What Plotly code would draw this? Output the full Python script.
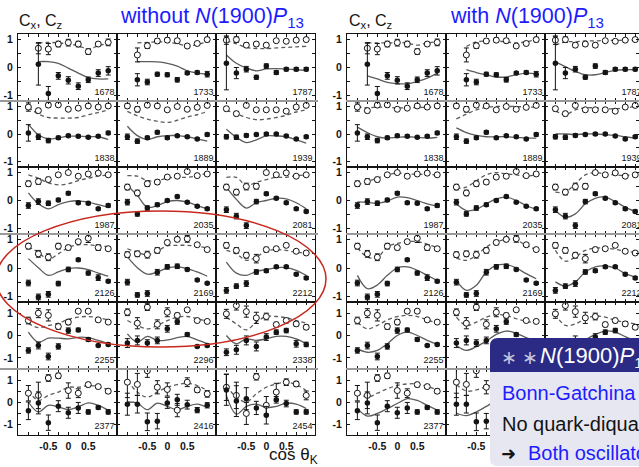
import plotly.graph_objects as go

W, H = 639, 467
N = None

# Photon energies (MeV) of the 18 angular distributions, in reading order
energies = [1678, 1733, 1787, 1838, 1889, 1939, 1987, 2035, 2081,
            2126, 2169, 2212, 2255, 2296, 2338, 2377, 2416, 2454]

# Kaon angle bins
cos_theta = [-1.0, -0.75, -0.5, -0.25, 0.0, 0.25, 0.5, 0.75, 1.0]

# C_x measurements (filled symbols)
cx_data = [
    [N, 0.12, -0.93, -0.30, -0.46, -0.67, -0.44, -0.20, -0.12],
    [N, -0.44, -0.52, -0.24, -0.26, -0.44, -0.20, -0.18, -0.24],
    [0.15, -0.20, -0.06, -0.35, 0.05, -0.18, -0.06, -0.06, -0.06],
    [0.04, -0.10, -0.24, -0.14, -0.06, -0.08, -0.12, -0.08, 0.04],
    [-0.10, -0.26, -0.14, 0.06, -0.14, -0.06, -0.10, -0.18, -0.02],
    [-0.10, -0.12, -0.05, -0.02, 0.00, 0.00, -0.07, -0.18, -0.10],
    [-0.18, -0.04, -0.10, 0.02, 0.26, -0.08, -0.10, -0.30, -0.18],
    [-0.06, -0.48, -0.27, -0.15, 0.00, 0.14, -0.06, -0.21, -0.30],
    [-0.33, -0.56, -0.90, -0.04, 0.24, 0.08, -0.08, -0.30, -0.39],
    [-0.53, -1.02, -0.93, -0.55, -0.05, 0.29, -0.18, -0.34, -0.47],
    [-0.50, -0.95, -0.90, -0.15, 0.04, 0.06, -0.05, -0.42, -0.54],
    [-0.79, -0.64, -0.55, -0.14, -0.10, 0.04, 0.04, -0.22, -0.35],
    [-0.67, -0.45, -0.94, -0.49, 0.22, 0.25, -0.18, -0.45, -0.40],
    [-0.34, -0.22, -0.34, -0.22, 0.30, 0.62, 0.04, -0.49, -0.45],
    [-0.75, -0.64, -0.22, -0.49, -0.07, 0.15, 0.22, -0.37, -0.40],
    [-0.40, -0.04, -0.94, -0.19, -0.49, -0.27, -0.45, -0.25, -0.45],
    [-0.10, -0.10, -0.90, -0.87, -0.04, 0.10, -0.12, -0.37, -0.15],
    [0.55, 0.04, 0.15, -0.27, -0.60, 0.10, -0.07, -0.45, -0.45],
]
cx_err = [
    [N, 0.75, 0.25, 0.12, 0.13, 0.12, 0.10, 0.12, 0.15],
    [N, 0.22, 0.10, 0.07, 0.07, 0.08, 0.05, 0.06, 0.10],
    [0.95, 0.20, 0.10, 0.07, 0.08, 0.07, 0.06, 0.06, 0.06],
    [0.30, 0.10, 0.08, 0.06, 0.05, 0.05, 0.04, 0.04, 0.06],
    [0.10, 0.08, 0.06, 0.06, 0.05, 0.04, 0.04, 0.04, 0.06],
    [0.08, 0.08, 0.06, 0.05, 0.05, 0.04, 0.04, 0.04, 0.05],
    [0.10, 0.10, 0.08, 0.06, 0.06, 0.05, 0.05, 0.05, 0.06],
    [0.10, 0.08, 0.08, 0.06, 0.05, 0.05, 0.04, 0.04, 0.05],
    [0.10, 0.10, 0.10, 0.08, 0.06, 0.05, 0.05, 0.05, 0.05],
    [0.10, 0.10, 0.10, 0.08, 0.08, 0.05, 0.07, 0.10, 0.05],
    [0.10, 0.08, 0.10, 0.10, 0.08, 0.08, 0.05, 0.04, 0.04],
    [0.10, 0.08, 0.10, 0.08, 0.06, 0.05, 0.05, 0.05, 0.05],
    [0.12, 0.15, 0.15, 0.12, 0.12, 0.08, 0.08, 0.05, 0.06],
    [0.20, 0.20, 0.15, 0.15, 0.15, 0.12, 0.08, 0.05, 0.06],
    [0.15, 0.20, 0.20, 0.20, 0.15, 0.10, 0.10, 0.15, 0.10],
    [0.40, 0.50, 0.35, 0.25, 0.25, 0.25, 0.10, 0.08, 0.10],
    [0.50, 0.40, 0.40, 0.35, 0.25, 0.25, 0.20, 0.12, 0.12],
    [0.70, 0.70, 0.50, 0.30, 0.40, 0.15, 0.15, 0.10, 0.10],
]

# C_z measurements (open symbols)
cz_data = [
    [N, 0.69, 0.66, 0.84, 0.89, 0.84, 0.57, 0.84, 0.90],
    [N, 0.45, 0.78, 0.95, 0.98, 0.96, 0.77, 0.86, 1.00],
    [0.98, 1.00, 0.80, 0.84, 0.80, 0.96, 0.94, 0.98, 1.00],
    [0.98, 0.85, 1.05, 1.06, 0.90, 0.94, 1.02, 0.98, 1.02],
    [1.02, 0.90, 1.05, 1.02, 0.88, 1.00, 0.90, 0.97, 1.04],
    [0.92, 0.74, 1.04, 0.88, 0.88, 0.88, 0.83, 0.98, 1.04],
    [0.60, 0.68, 0.75, 0.92, 1.00, 0.87, 0.95, 0.98, 0.92],
    [0.48, 0.27, 0.60, 0.66, 0.84, 0.87, 1.04, 0.89, 0.95],
    [0.48, 0.30, 0.50, 0.51, 1.00, 0.92, 0.99, 0.87, 0.92],
    [0.77, 0.50, 0.38, 0.77, 0.72, 0.93, 1.05, 0.72, 0.68],
    [0.47, 0.50, 0.47, 0.62, 0.90, 1.01, 1.03, 0.82, 0.65],
    [0.80, 0.62, 0.45, 0.33, 0.65, 0.68, 0.80, 0.59, 0.53],
    [0.67, 1.00, 0.90, 0.40, 0.60, 1.09, 1.09, 0.70, 0.60],
    [1.04, 0.55, 1.27, 0.50, 1.04, 0.90, 1.15, 0.67, 0.63],
    [0.97, 1.34, 1.07, 0.79, 0.85, 0.49, 0.67, 0.52, 0.37],
    [0.40, 0.30, 1.09, 1.19, 0.52, 0.40, 0.79, 0.70, 0.49],
    [0.90, 0.80, 1.42, 0.67, 0.57, -0.37, 0.90, 0.55, 0.37],
    [0.67, 0.30, -0.52, 1.15, -0.15, 0.45, 0.90, 0.82, 0.30],
]
cz_err = [
    [N, 0.20, 0.20, 0.10, 0.12, 0.10, 0.10, 0.06, 0.12],
    [N, 0.25, 0.10, 0.08, 0.08, 0.08, 0.05, 0.06, 0.08],
    [0.15, 0.10, 0.08, 0.07, 0.07, 0.05, 0.05, 0.06, 0.06],
    [0.15, 0.08, 0.08, 0.06, 0.05, 0.05, 0.05, 0.04, 0.06],
    [0.08, 0.10, 0.06, 0.05, 0.05, 0.05, 0.05, 0.05, 0.06],
    [0.08, 0.08, 0.06, 0.05, 0.05, 0.05, 0.05, 0.05, 0.06],
    [0.10, 0.10, 0.08, 0.06, 0.05, 0.05, 0.05, 0.05, 0.06],
    [0.10, 0.10, 0.10, 0.08, 0.06, 0.05, 0.05, 0.05, 0.06],
    [0.10, 0.10, 0.12, 0.10, 0.06, 0.05, 0.05, 0.05, 0.05],
    [0.10, 0.12, 0.12, 0.10, 0.08, 0.06, 0.15, 0.10, 0.06],
    [0.10, 0.10, 0.12, 0.10, 0.08, 0.08, 0.12, 0.05, 0.05],
    [0.10, 0.10, 0.10, 0.15, 0.08, 0.06, 0.06, 0.05, 0.05],
    [0.15, 0.20, 0.25, 0.12, 0.12, 0.08, 0.08, 0.05, 0.06],
    [0.15, 0.25, 0.15, 0.20, 0.20, 0.10, 0.06, 0.05, 0.06],
    [0.20, 0.20, 0.25, 0.25, 0.15, 0.10, 0.10, 0.10, 0.10],
    [0.35, 0.60, 0.15, 0.12, 0.35, 0.20, 0.10, 0.08, 0.10],
    [0.70, 0.50, 0.30, 0.30, 0.30, 0.30, 0.20, 0.12, 0.15],
    [0.60, 0.60, 0.50, 0.15, 0.40, 0.40, 0.15, 0.12, 0.20],
]

# Partial-wave fit without the N(1900)P13: C_x (solid) and C_z (dashed)
cx_fit_without = [
    [N, 0.21, 0.21, 0.15, -0.02, -0.20, -0.36, -0.41, -0.41],
    [N, 0.21, 0.21, 0.20, 0.15, 0.05, -0.12, -0.20, -0.24],
    [0.45, 0.15, -0.02, -0.12, -0.05, -0.04, -0.06, -0.08, -0.10],
    [0.36, -0.03, -0.18, -0.14, -0.08, -0.08, -0.10, -0.10, -0.20],
    [0.28, -0.06, -0.20, -0.10, -0.06, -0.06, -0.10, -0.18, -0.26],
    [0.17, -0.12, -0.31, -0.21, -0.07, -0.07, -0.10, -0.21, -0.33],
    [0.27, -0.12, -0.30, -0.15, -0.04, -0.01, -0.06, -0.15, -0.24],
    [0.54, 0.18, -0.24, -0.18, -0.04, 0.00, -0.06, -0.18, -0.30],
    [0.48, 0.04, -0.27, -0.08, 0.00, 0.08, 0.06, -0.08, -0.30],
    [0.33, 0.01, -0.26, -0.14, -0.02, 0.00, -0.06, -0.18, -0.29],
    [0.39, 0.01, -0.22, -0.14, 0.00, 0.04, -0.02, -0.14, -0.29],
    [0.21, -0.18, -0.26, -0.12, -0.06, 0.01, 0.01, -0.08, -0.26],
    [0.15, -0.30, -0.12, -0.12, -0.15, -0.08, -0.10, -0.22, -0.37],
    [0.07, -0.30, -0.04, -0.22, -0.20, -0.10, -0.04, -0.20, -0.37],
    [0.00, -0.37, -0.15, -0.22, -0.15, -0.04, -0.04, -0.15, -0.37],
    [0.00, -0.45, -0.15, -0.22, -0.34, -0.22, -0.04, -0.15, -0.37],
    [0.00, -0.05, -0.35, -0.05, -0.20, -0.35, -0.20, -0.10, -0.25],
    [0.30, -0.55, -0.20, -0.10, -0.25, -0.20, -0.05, -0.10, -0.30],
]
cz_fit_without = [
    [N, 0.88, 0.90, 0.88, 0.84, 0.78, 0.66, 0.78, 0.86],
    [N, 0.88, 0.90, 0.92, 0.90, 0.85, 0.78, 0.82, 0.92],
    [0.95, 0.85, 0.72, 0.68, 0.68, 0.70, 0.72, 0.74, 0.76],
    [0.97, 0.73, 0.60, 0.58, 0.58, 0.60, 0.70, 0.78, 0.88],
    [0.82, 0.66, 0.54, 0.46, 0.42, 0.50, 0.62, 0.70, 0.82],
    [0.86, 0.74, 0.60, 0.52, 0.54, 0.60, 0.68, 0.80, 0.88],
    [0.92, 0.80, 0.63, 0.56, 0.60, 0.71, 0.80, 0.87, 0.92],
    [0.89, 0.87, 0.71, 0.71, 0.80, 0.83, 0.83, 0.89, 0.98],
    [0.83, 0.83, 0.54, 0.65, 0.75, 0.83, 0.83, 0.89, 0.92],
    [0.75, 0.55, 0.30, 0.50, 0.72, 0.82, 0.82, 0.78, 0.75],
    [0.68, 0.55, 0.47, 0.60, 0.78, 0.80, 0.80, 0.77, 0.70],
    [0.62, 0.50, 0.27, 0.39, 0.60, 0.65, 0.62, 0.56, 0.53],
    [0.55, 0.35, 0.45, 0.55, 0.72, 0.82, 0.85, 0.80, 0.70],
    [0.67, 0.45, 0.30, 0.45, 0.67, 0.82, 0.85, 0.75, 0.64],
    [0.82, 0.52, 0.25, 0.60, 0.85, 0.85, 0.79, 0.67, 0.55],
    [0.52, 0.07, 0.30, 0.45, 0.67, 0.67, 0.75, 0.70, 0.55],
    [0.97, 0.45, 0.22, 0.45, 0.67, 0.79, 0.85, 0.75, 0.52],
    [0.75, 0.22, 0.00, 0.37, 0.67, 0.82, 0.90, 0.79, 0.52],
]

# Partial-wave fit with the N(1900)P13: C_x (solid) and C_z (dashed)
cx_fit_with = [
    [N, -0.30, -0.41, -0.53, -0.58, -0.58, -0.50, -0.38, -0.20],
    [N, -0.08, -0.18, -0.26, -0.34, -0.34, -0.26, -0.20, -0.22],
    [0.20, 0.03, -0.14, -0.26, -0.26, -0.18, -0.10, -0.08, -0.08],
    [0.25, 0.05, -0.10, -0.15, -0.12, -0.10, -0.12, -0.15, -0.12],
    [0.22, 0.05, -0.05, -0.10, -0.10, -0.10, -0.12, -0.15, -0.15],
    [0.00, 0.00, -0.02, 0.00, 0.00, -0.02, -0.05, -0.10, -0.15],
    [-0.05, -0.07, -0.10, -0.02, 0.12, 0.10, 0.00, -0.12, -0.20],
    [-0.12, -0.36, -0.32, -0.12, 0.06, 0.12, 0.00, -0.18, -0.32],
    [-0.36, -0.60, -0.48, -0.12, 0.08, 0.12, -0.04, -0.24, -0.40],
    [-0.26, -0.73, -0.60, -0.26, 0.00, 0.04, -0.08, -0.26, -0.44],
    [-0.44, -0.79, -0.61, -0.14, 0.09, 0.12, 0.00, -0.20, -0.38],
    [-0.49, -0.64, -0.49, -0.14, 0.04, 0.07, 0.00, -0.20, -0.32],
    [-0.60, -0.75, -0.67, -0.37, 0.00, 0.15, 0.00, -0.22, -0.40],
    [-0.45, -0.67, -0.50, -0.25, 0.05, 0.20, 0.10, -0.10, -0.25],
    [-0.60, -0.75, -0.50, -0.20, 0.05, 0.20, 0.15, -0.05, -0.25],
    [-0.30, -0.64, -0.52, -0.30, -0.07, 0.15, 0.07, -0.15, -0.37],
    [-0.50, -0.62, -0.45, -0.20, 0.05, 0.15, 0.10, -0.10, -0.30],
    [-0.40, -0.60, -0.45, -0.20, 0.05, 0.15, 0.10, -0.10, -0.30],
]
cz_fit_with = [
    [N, 0.89, 0.88, 0.88, 0.89, 0.88, 0.80, 0.88, 0.92],
    [N, 0.75, 0.92, 0.95, 0.95, 0.92, 0.88, 0.92, 1.00],
    [0.80, 0.92, 0.92, 0.95, 0.95, 0.97, 0.97, 0.98, 0.98],
    [1.00, 0.95, 0.98, 0.97, 0.95, 0.95, 0.96, 0.97, 0.98],
    [0.55, 0.72, 0.88, 0.97, 1.00, 1.00, 1.00, 0.98, 0.98],
    [0.85, 0.70, 0.88, 0.95, 0.95, 0.92, 0.92, 0.95, 1.00],
    [0.56, 0.68, 0.80, 0.92, 0.98, 0.95, 0.94, 0.93, 0.92],
    [0.44, 0.48, 0.71, 0.92, 1.00, 0.95, 0.92, 0.87, 0.92],
    [0.30, 0.30, 0.60, 0.92, 1.00, 0.95, 0.92, 0.90, 0.92],
    [0.72, 0.39, 0.37, 0.75, 0.87, 0.93, 0.93, 0.84, 0.72],
    [0.35, 0.27, 0.45, 0.74, 0.92, 1.01, 0.98, 0.80, 0.65],
    [0.62, 0.24, 0.39, 0.62, 0.70, 0.70, 0.66, 0.59, 0.55],
    [0.60, 0.30, 0.45, 0.70, 0.85, 0.90, 0.85, 0.70, 0.55],
    [0.82, 0.45, 0.60, 0.82, 0.93, 0.90, 0.75, 0.63, 0.57],
    [0.97, 0.45, 0.52, 0.75, 0.87, 0.82, 0.67, 0.60, 0.52],
    [0.45, 0.22, 0.40, 0.60, 0.75, 0.82, 0.82, 0.70, 0.55],
    [0.80, 0.50, 0.55, 0.70, 0.80, 0.82, 0.75, 0.65, 0.55],
    [0.75, 0.50, 0.55, 0.70, 0.80, 0.82, 0.75, 0.65, 0.55],
]

x_tick_vals = [-1.0, -0.75, -0.5, -0.25, 0.0, 0.25, 0.5, 0.75, 1.0]
x_tick_text = ["", "", "<b>-0.5</b>", "", "<b>0</b>", "", "<b>0.5</b>", "", ""]
y_tick_vals = [-1.0, -0.5, 0.0, 0.5, 1.0]
y_tick_text = ["<b>-1</b>", "", "<b>0</b>", "", "<b>1</b>"]

panel_fits = [(cx_fit_without, cz_fit_without), (cx_fit_with, cz_fit_with)]

# ---- geometry (pixels) ----
col_px = [[18, 117, 216, 315], [347, 446, 545, 644]]
row_px = [34, 101, 167, 234, 302, 369, 435]
X_RANGE = (-1.26, 1.22)

FONT = "Liberation Sans"
INK = "#141414"
CURVE = "#5c5c5c"
BLUE = "#1c1cff"


def fx(p):
    return p / W


def fy(p):
    return 1 - p / H


fig = go.Figure()
layout_axes = {}

for p in range(2):
    fit_x, fit_z = panel_fits[p]
    for k, energy in enumerate(energies):
        r, c = divmod(k, 3)
        idx = p * 18 + k + 1
        xs = "" if idx == 1 else str(idx)
        x0, x1 = col_px[p][c], col_px[p][c + 1]
        xr = list(X_RANGE)
        if x1 > W:
            frac = (W - x0) / (x1 - x0)
            xr[1] = X_RANGE[0] + frac * (X_RANGE[1] - X_RANGE[0])
            x1 = W
        yr = [-1.2, 1.2] if r < 4 else [-1.5, 1.5]

        common = dict(showline=True, linecolor=INK, linewidth=1, mirror="allticks",
                      ticks="inside", ticklen=3, tickwidth=1, tickcolor=INK,
                      showgrid=False, zeroline=False, fixedrange=True,
                      tickfont=dict(family=FONT, size=10.5, color=INK))
        layout_axes["xaxis" + xs] = dict(
            common, domain=[fx(x0), fx(x1)], range=xr, anchor="y" + xs,
            tickmode="array", tickvals=x_tick_vals, ticktext=x_tick_text,
            showticklabels=(r == 5), ticklabelstandoff=1)
        layout_axes["yaxis" + xs] = dict(
            common, domain=[fy(row_px[r + 1]), fy(row_px[r])], range=yr,
            anchor="x" + xs, tickmode="array", tickvals=y_tick_vals,
            ticktext=y_tick_text, showticklabels=(c == 0), ticklabelstandoff=2)

        ax = dict(xaxis="x" + xs, yaxis="y" + xs)
        # model curves
        fig.add_trace(go.Scatter(x=cos_theta, y=fit_x[k], mode="lines",
                                 line=dict(color=CURVE, width=1.3, shape="spline", smoothing=1.0),
                                 hoverinfo="skip", showlegend=False, **ax))
        fig.add_trace(go.Scatter(x=cos_theta, y=fit_z[k], mode="lines",
                                 line=dict(color=CURVE, width=1.3, shape="spline", smoothing=1.0,
                                           dash="4px,3px"),
                                 hoverinfo="skip", showlegend=False, **ax))
        # measured points
        fig.add_trace(go.Scatter(x=cos_theta, y=cz_data[k], mode="markers",
                                 marker=dict(symbol="circle", size=6, color="white",
                                             line=dict(color=INK, width=1)),
                                 error_y=dict(type="data", array=cz_err[k], color=INK,
                                              thickness=1, width=2.5),
                                 showlegend=False, **ax))
        fig.add_trace(go.Scatter(x=cos_theta, y=cx_data[k], mode="markers",
                                 marker=dict(symbol="circle", size=5.5, color=INK),
                                 error_y=dict(type="data", array=cx_err[k], color=INK,
                                              thickness=1, width=2.5),
                                 showlegend=False, **ax))
        # energy label in the lower right corner
        fig.add_trace(go.Scatter(x=[X_RANGE[1] - 0.06], y=[yr[0] + (0.3 if r < 4 else 0.37)],
                                 mode="text", text=[str(energy)], textposition="middle left",
                                 textfont=dict(family=FONT, size=9, color=INK),
                                 hoverinfo="skip", showlegend=False, **ax))

annotations = [
    dict(x=fx(17), y=fy(21), text="C<sub>x</sub>, C<sub>z</sub>", xanchor="left", yanchor="middle",
         font=dict(family=FONT, size=16, color=INK)),
    dict(x=fx(118), y=fy(18), text="without <i>N</i>(1900)<i>P</i><sub>13</sub>",
         xanchor="left", yanchor="middle", font=dict(family=FONT, size=21.5, color=BLUE)),
    dict(x=fx(347), y=fy(21), text="C<sub>x</sub>, C<sub>z</sub>", xanchor="left", yanchor="middle",
         font=dict(family=FONT, size=16, color=INK)),
    dict(x=fx(448), y=fy(18), text="with <i>N</i>(1900)<i>P</i><sub>13</sub>",
         xanchor="left", yanchor="middle", font=dict(family=FONT, size=21.5, color=BLUE)),
    dict(x=fx(267), y=fy(456), text="cos θ<sub>K</sub>", xanchor="left", yanchor="middle",
         font=dict(family=FONT, size=17, color=INK)),
    # block overlay texts
    dict(x=fx(499), y=fy(357), text="∗ ∗", xanchor="left", yanchor="middle",
         font=dict(family=FONT, size=19, color="#c4c4dc")),
    dict(x=fx(538), y=fy(357), text="<i>N</i>(1900)<i>P</i><sub>13</sub>", xanchor="left",
         yanchor="middle", font=dict(family=FONT, size=22, color="white")),
    dict(x=fx(500), y=fy(393), text="Bonn-Gatchina", xanchor="left", yanchor="middle",
         font=dict(family=FONT, size=20, color=BLUE)),
    dict(x=fx(500), y=fy(424), text="No quark-diquark", xanchor="left", yanchor="middle",
         font=dict(family=FONT, size=20, color=INK)),
    dict(x=fx(499), y=fy(453), text="➜", xanchor="left", yanchor="middle",
         font=dict(family="DejaVu Sans", size=18, color=INK)),
    dict(x=fx(526), y=fy(453), text="Both oscillator", xanchor="left", yanchor="middle",
         font=dict(family=FONT, size=20, color=BLUE)),
]
for a in annotations:
    a.update(xref="paper", yref="paper", showarrow=False)


def P(x, y):
    return f"{fx(x):.5f},{fy(y):.5f}"


shapes = []
# separators between stacked figure strips
for yy in (101, 234, 369):
    shapes.append(dict(type="line", xref="paper", yref="paper", x0=fx(0), x1=fx(318),
                       y0=fy(yy), y1=fy(yy), line=dict(color="#9a9a9a", width=2), layer="above"))
    shapes.append(dict(type="line", xref="paper", yref="paper", x0=fx(346), x1=1,
                       y0=fy(yy), y1=fy(yy), line=dict(color="#9a9a9a", width=2), layer="above"))
# highlight ellipse around the 2126-2212 row
shapes.append(dict(type="circle", xref="paper", yref="paper", x0=fx(-4), x1=fx(326),
                   y0=fy(347), y1=fy(211), line=dict(color="#c8281e", width=1.5), layer="above"))
# block: body then title bar
shapes.append(dict(type="path", xref="paper", yref="paper", layer="above",
                   path=f"M {P(490,370)} L {P(490,459)} Q {P(490,466)} {P(497,466)} "
                        f"L {P(660,466)} L {P(660,370)} Z",
                   fillcolor="#e7e7f1", line=dict(width=0)))
shapes.append(dict(type="path", xref="paper", yref="paper", layer="above",
                   path=f"M {P(490,372)} L {P(490,346)} Q {P(490,338)} {P(498,338)} "
                        f"L {P(660,338)} L {P(660,372)} Z",
                   fillcolor="#2b2b85", line=dict(width=0)))

fig.update_layout(
    width=W, height=H, margin=dict(l=0, r=0, t=0, b=0),
    paper_bgcolor="white", plot_bgcolor="white",
    font=dict(family=FONT, color=INK),
    annotations=annotations, shapes=shapes, showlegend=False,
    **layout_axes,
)

fig.write_html("out.html")
